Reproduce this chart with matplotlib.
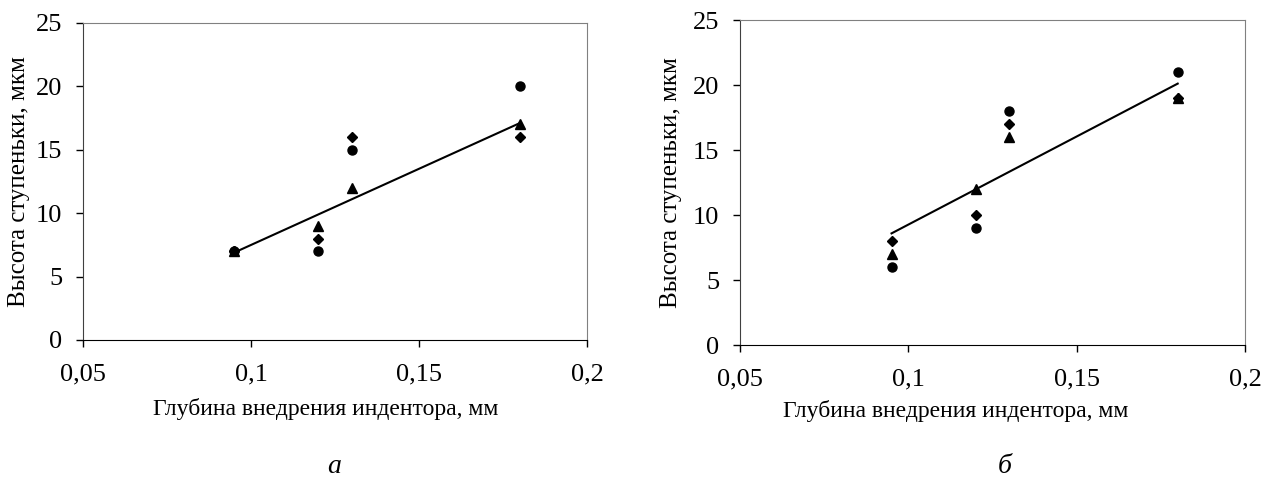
import numpy as np
import matplotlib
matplotlib.use('agg')
import matplotlib.pyplot as plt

plt.rcParams['font.family'] = ['Liberation Serif', 'DejaVu Serif']

depth = [0.095, 0.12, 0.13, 0.18]

# panel a
a_circle = [7, 7, 15, 20]
a_diamond = [7, 8, 16, 16]
a_triangle = [7, 9, 12, 17]

# panel b
b_circle = [6, 9, 18, 21]
b_diamond = [8, 10, 17, 19]
b_triangle = [7, 12, 16, 19]

xticks = [0.05, 0.1, 0.15, 0.2]
xticklabels = ['0,05', '0,1', '0,15', '0,2']
yticks = [0, 5, 10, 15, 20, 25]

xlabel = 'Глубина внедрения индентора, мм'
ylabel = 'Высота ступеньки, мкм'

fig = plt.figure(figsize=(12.72, 4.88), dpi=100)

def panel(rect, circ, diam, tri, letter, letter_x, xl_pos, yl_x):
	ax = fig.add_axes(rect)
	ax.plot(depth, circ, 'o', color='black', markersize=6.5)
	ax.plot(depth, diam, 'D', color='black', markersize=4.8)
	ax.plot(depth, tri, '^', color='black', markersize=6.5)
	# linear trend
	k, b = np.polyfit(depth, tri, 1)
	xs = np.array([depth[0], depth[-1]])
	ax.plot(xs, k * xs + b, color='black', linewidth=1.5)
	ax.set_xlim(0.05, 0.2)
	ax.set_ylim(0, 25)
	ax.set_xticks(xticks)
	ax.set_xticklabels(xticklabels)
	ax.set_yticks(yticks)
	ax.tick_params(direction='out', length=5, width=1, labelsize=19, colors='black')
	ax.tick_params(axis='y', pad=10)
	ax.tick_params(axis='x', pad=12)
	ax.set_xlabel(xlabel, fontsize=17, va='top')
	ax.xaxis.set_label_coords(xl_pos[0], xl_pos[1])
	ax.set_ylabel(ylabel, fontsize=18)
	ax.yaxis.set_label_coords(yl_x, 0.5)
	for s in ['top', 'right']:
		ax.spines[s].set_color('#808080')
	ax.spines['left'].set_color('#404040')
	ax.spines['bottom'].set_color('black')
	fig.text(letter_x, 0.045, letter, fontsize=20, style='italic', ha='center', va='center')
	return ax

panel([0.0653, 0.3033, 0.3962, 0.6496], a_circle, a_diamond, a_triangle, 'а', 0.263,
	(0.482, -0.183), -0.106)
panel([0.5818, 0.293, 0.397, 0.666], b_circle, b_diamond, b_triangle, 'б', 0.790,
	(0.428, -0.169), -0.115)

fig.savefig('out.png', dpi=100)
